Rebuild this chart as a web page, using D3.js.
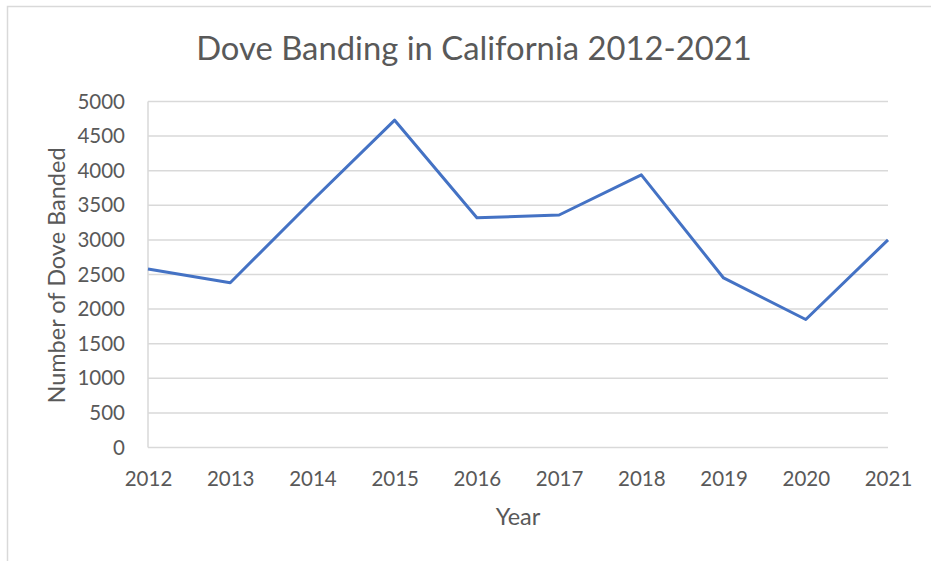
<!DOCTYPE html>
<html>
<head>
<meta charset="utf-8">
<script src="https://cdn.jsdelivr.net/npm/d3@7"></script>
<style>
  html, body { margin: 0; padding: 0; background: #fff; }
  svg { display: block; }
  text { font-family: Lato, "Open Sans", sans-serif; fill: #595959; }
</style>
</head>
<body>
<script>
// Dove banding counts per year
const years = ["2012", "2013", "2014", "2015", "2016", "2017", "2018", "2019", "2020", "2021"];
const banded = [2580, 2380, 3570, 4730, 3320, 3360, 3940, 2450, 1850, 3000];
const yTicks = [0, 500, 1000, 1500, 2000, 2500, 3000, 3500, 4000, 4500, 5000];

const W = 931, H = 561;
const m = { left: 148, right: 43, top: 101.5, bottom: 113.5 };

const svg = d3.select("body").append("svg").attr("width", W).attr("height", H);

// outer chart frame (left and top edges visible)
svg.append("path")
  .attr("d", `M7.5,${H} V6.5 H${W}`)
  .attr("fill", "none").attr("stroke", "#d9d9d9").attr("stroke-width", 1.5);

const x = d3.scalePoint().domain(years).range([m.left, W - m.right]);
const y = d3.scaleLinear().domain([0, 5000]).range([H - m.bottom, m.top]);

// horizontal gridlines
svg.append("g").selectAll("line").data(yTicks).join("line")
  .attr("x1", m.left).attr("x2", W - m.right)
  .attr("y1", d => y(d)).attr("y2", d => y(d))
  .attr("stroke", "#d9d9d9").attr("stroke-width", 1.5);

// vertical axis line
svg.append("line")
  .attr("x1", m.left).attr("x2", m.left)
  .attr("y1", y(5000)).attr("y2", y(0))
  .attr("stroke", "#d9d9d9").attr("stroke-width", 1.5);

// y axis labels
const yAxis = d3.axisLeft(y).tickValues(yTicks).tickSize(0).tickPadding(23).tickFormat(d3.format("d"));
const gy = svg.append("g").attr("transform", `translate(${m.left},0)`).call(yAxis);
gy.select(".domain").remove();
gy.selectAll("text").style("font-size", "20.5px").attr("fill", "#595959")
  .style("font-family", "Lato, 'Open Sans', sans-serif");

// x axis labels
const xAxis = d3.axisBottom(x).tickSize(0).tickPadding(24);
const gx = svg.append("g").attr("transform", `translate(0,${y(0)})`).call(xAxis);
gx.select(".domain").remove();
gx.selectAll("text").style("font-size", "20.5px").attr("fill", "#595959")
  .style("font-family", "Lato, 'Open Sans', sans-serif");

// data line
svg.append("path")
  .datum(banded)
  .attr("d", d3.line().x((d, i) => x(years[i])).y(d => y(d)))
  .attr("fill", "none").attr("stroke", "#4472C4").attr("stroke-width", 3)
  .attr("stroke-linejoin", "round");

// title
svg.append("text")
  .attr("x", 474).attr("y", 60)
  .attr("text-anchor", "middle")
  .style("font-size", "32.8px")
  .text("Dove Banding in California 2012-2021");

// axis titles
svg.append("text")
  .attr("transform", `translate(65,${(y(0) + y(5000)) / 2 + 1}) rotate(-90)`)
  .attr("text-anchor", "middle")
  .style("font-size", "23.5px")
  .text("Number of Dove Banded");

svg.append("text")
  .attr("x", (m.left + W - m.right) / 2).attr("y", 525)
  .attr("text-anchor", "middle")
  .style("font-size", "23.5px")
  .text("Year");
</script>
</body>
</html>
